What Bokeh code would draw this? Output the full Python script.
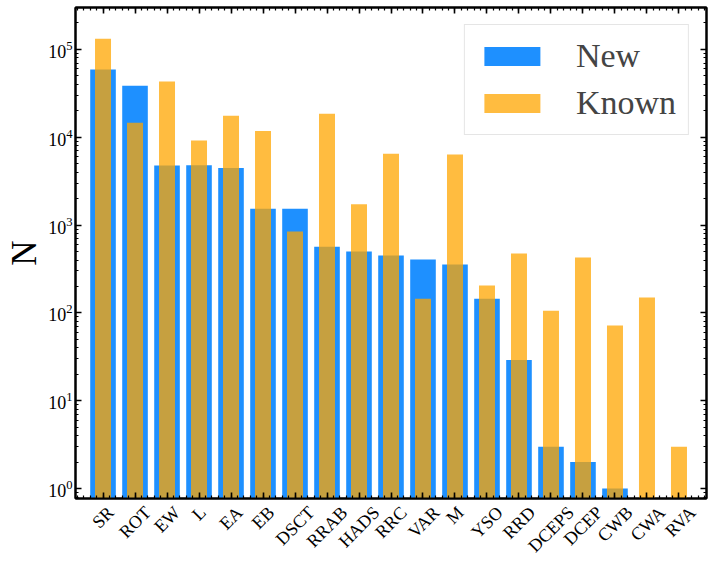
import numpy as np
from math import pi
from bokeh.plotting import figure
from bokeh.models import (ColumnDataSource, Range1d, FixedTicker, LogAxis, LinearAxis,
                          Legend, LegendItem)
from bokeh.embed import file_html
from bokeh.resources import INLINE

categories = ["SR", "ROT", "EW", "L", "EA", "EB", "DSCT", "RRAB", "HADS", "RRC",
              "VAR", "M", "YSO", "RRD", "DCEPS", "DCEP", "CWB", "CWA", "RVA"]
new_counts = [59000, 38600, 4780, 4800, 4470, 1530, 1530, 567, 500, 451,
              406, 356, 145, 29, 3, 2, 1, 0, 0]
known_counts = [132000, 14600, 43200, 9200, 17600, 11800, 846, 18500, 1720, 6500,
                145, 6370, 205, 475, 106, 428, 72, 150, 3]
y_major_ticks = [1, 10, 100, 1000, 10000, 100000]

FONT = "Liberation Serif"
TICK_FS = 18
n = len(categories)
idx = np.arange(n)

def pos(vals):
    v = np.asarray(vals, dtype=float)
    return np.where(v > 0, v, np.nan)

src = ColumnDataSource(dict(x=idx, new=pos(new_counts), known=pos(known_counts)))

FRAME_W, FRAME_H = 631, 491
x_lo, x_hi = -0.86, n - 1 + 0.86
y_lo, y_hi = 0.77, 3.0e5

p = figure(frame_width=FRAME_W, frame_height=FRAME_H,
           x_range=Range1d(x_lo, x_hi), y_range=Range1d(y_lo, y_hi),
           y_axis_type="log", output_backend="svg", toolbar_location=None,
           min_border_left=75, min_border_top=7, min_border_right=2, min_border_bottom=5)
p.xgrid.visible = False
p.ygrid.visible = False
p.outline_line_color = "black"
p.outline_line_width = 2
p.background_fill_color = "white"
p.border_fill_color = "white"

r_new = p.vbar(x="x", top="new", bottom=1e-3, width=0.8, source=src,
               fill_color="#1E90FF", line_color=None)
r_known = p.vbar(x="x", top="known", bottom=1e-3, width=0.5, source=src,
                 fill_color="orange", fill_alpha=0.75, line_color=None)

x_minor = [float(v) for v in np.arange(-0.8, n - 0.2 + 1e-9, 0.2)]
x_ticker = FixedTicker(ticks=list(range(n)), minor_ticks=x_minor)
y_minor = [float(k * 10.0 ** d) for d in range(-1, 6) for k in range(2, 10)]
y_ticker = FixedTicker(ticks=y_major_ticks, minor_ticks=y_minor)

def style(ax, show):
    ax.axis_line_width = 2
    ax.axis_line_color = "black"
    ax.major_tick_in = 6
    ax.major_tick_out = 0
    ax.minor_tick_in = 3
    ax.minor_tick_out = 0
    ax.major_tick_line_width = 1.6
    ax.minor_tick_line_width = 1.2
    ax.major_tick_line_color = "black"
    ax.minor_tick_line_color = "black"
    ax.major_label_text_font = FONT
    ax.major_label_text_color = "black"
    if show:
        ax.major_label_text_font_size = f"{TICK_FS}px"
        ax.major_label_standoff = 6
    else:
        ax.major_label_text_font_size = "0px"
        ax.major_label_standoff = 0

# bottom axis: ticks only
xa = p.xaxis[0]
xa.ticker = x_ticker
style(xa, False)
xa.major_label_overrides = {i: "" for i in range(n)}

# label axis below: rotated labels centred on their category (matplotlib-like)
CHAR_W = {"A": 722, "B": 667, "C": 667, "D": 722, "E": 611, "H": 722, "K": 722,
          "L": 611, "M": 889, "O": 722, "P": 556, "R": 667, "S": 556, "T": 611,
          "V": 722, "W": 944, "Y": 722}
px_per_unit = FRAME_W / (x_hi - x_lo)
label_ticks = []
for i, c in enumerate(categories):
    w = sum(CHAR_W.get(ch, 650) for ch in c) * TICK_FS / 1000.0
    label_ticks.append(float(i + 0.354 * w / px_per_unit))
lab_ax = LinearAxis(ticker=FixedTicker(ticks=label_ticks, minor_ticks=[]))
lab_ax.major_label_overrides = {t: c for t, c in zip(label_ticks, categories)}
lab_ax.axis_line_color = None
lab_ax.major_tick_line_color = None
lab_ax.minor_tick_line_color = None
lab_ax.major_tick_in = 0
lab_ax.major_tick_out = 0
lab_ax.minor_tick_in = 0
lab_ax.minor_tick_out = 0
lab_ax.major_label_orientation = pi / 4
lab_ax.major_label_text_font = FONT
lab_ax.major_label_text_font_size = f"{TICK_FS}px"
lab_ax.major_label_text_color = "black"
lab_ax.major_label_standoff = 11
p.add_layout(lab_ax, "below")

ya = p.yaxis[0]
ya.ticker = y_ticker
style(ya, True)
ya.major_label_standoff = 3
ya.axis_label = "N"
ya.axis_label_text_font = FONT
ya.axis_label_text_font_size = "35px"
ya.axis_label_text_font_style = "normal"
ya.axis_label_text_color = "black"
ya.axis_label_standoff = 1

top_ax = LinearAxis(ticker=x_ticker)
style(top_ax, False)
top_ax.major_label_overrides = {i: "" for i in range(n)}
p.add_layout(top_ax, "above")

right_ax = LogAxis(ticker=y_ticker)
style(right_ax, False)
right_ax.major_label_overrides = {t: "" for t in y_major_ticks}
p.add_layout(right_ax, "right")

legend = Legend(items=[LegendItem(label="New", renderers=[r_new]),
                       LegendItem(label="Known", renderers=[r_known])],
                location="top_right", label_text_font=FONT, label_text_font_size="34px",
                glyph_width=70, glyph_height=24, label_standoff=29,
                padding=12, spacing=9, margin=17,
                border_line_color="#cccccc", border_line_width=1,
                background_fill_color="white", background_fill_alpha=0.8)
p.add_layout(legend)

open("out.html", "w").write(file_html(p, INLINE))
